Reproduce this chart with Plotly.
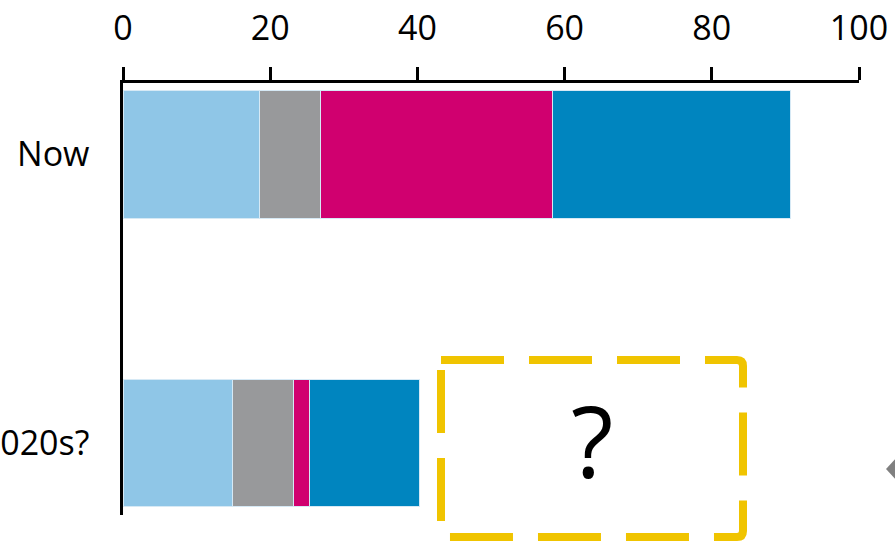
import plotly.graph_objects as go

# Stacked shares per period
categories = ["Now", "2020s?"]
series_names = ["Segment A", "Segment B", "Segment C", "Segment D"]
segment_a = [18.6, 14.9]
segment_b = [8.3, 8.3]
segment_c = [31.5, 2.2]
segment_d = [32.3, 14.9]
colors = ["#8FC6E7", "#98999B", "#D0006F", "#0085BF"]
x_ticks = [0, 20, 40, 60, 80, 100]

FONT = "Open Sans"

fig = go.Figure()
for name, vals, col in zip(series_names, [segment_a, segment_b, segment_c, segment_d], colors):
    fig.add_trace(go.Bar(
        y=categories, x=vals, name=name, orientation="h",
        marker=dict(color=col, line=dict(color="#D6E9F5", width=1)),
        width=0.442, showlegend=False,
    ))

W, H = 895, 542
L, R, T, B = 123, 36, 83, 27
pw, ph = W - L - R, H - T - B

def px(x):
    return (x - L) / pw

def py(y):
    return (H - B - y) / ph

# Dashed outline with rounded right-hand corners
x0, x1, y0, y1, r = 441, 743, 360, 537, 6
path = (
    f"M {px(x0)},{py(y0)} L {px(x1 - r)},{py(y0)} "
    f"Q {px(x1)},{py(y0)} {px(x1)},{py(y0 + r)} "
    f"L {px(x1)},{py(y1 - r)} "
    f"Q {px(x1)},{py(y1)} {px(x1 - r)},{py(y1)} "
    f"L {px(x0)},{py(y1)} Z"
)
fig.add_shape(type="path", path=path, xref="paper", yref="paper",
              line=dict(color="#F0C400", width=8, dash="63px,25px"),
              fillcolor="rgba(0,0,0,0)")

# Arrow tip at the right edge
arrow = (f"M {px(886)},{py(469)} L {px(897)},{py(457)} "
         f"L {px(910)},{py(457)} L {px(910)},{py(481)} L {px(897)},{py(481)} Z")
fig.add_shape(type="path", path=arrow, xref="paper", yref="paper",
              line=dict(width=0), fillcolor="#808080")

fig.add_annotation(x=px(592), y=py(509), xref="paper", yref="paper",
                   yanchor="bottom", text="?", showarrow=False,
                   font=dict(family=FONT, size=98, color="#000000"))

fig.update_layout(
    barmode="stack",
    width=W, height=H,
    margin=dict(l=L, r=R, t=T, b=B, autoexpand=False),
    paper_bgcolor="white", plot_bgcolor="white",
    font=dict(family=FONT, size=34, color="#000000"),
    xaxis=dict(
        side="top", range=[0, 100], tickvals=x_ticks,
        showline=True, linecolor="#000000", linewidth=2.5,
        ticks="outside", ticklen=13, tickwidth=2.5, tickcolor="#000000",
        showgrid=False, zeroline=False, automargin=False,
        ticklabelstandoff=14,
        tickfont=dict(family=FONT, size=34, color="#000000"),
    ),
    yaxis=dict(
        range=[1.25, -0.248], showline=True, linecolor="#000000", linewidth=2.5,
        ticks="", showgrid=False, zeroline=False, automargin=False,
        ticklabelstandoff=24,
        tickfont=dict(family=FONT, size=34, color="#000000"),
    ),
)

fig.write_html("out.html")
